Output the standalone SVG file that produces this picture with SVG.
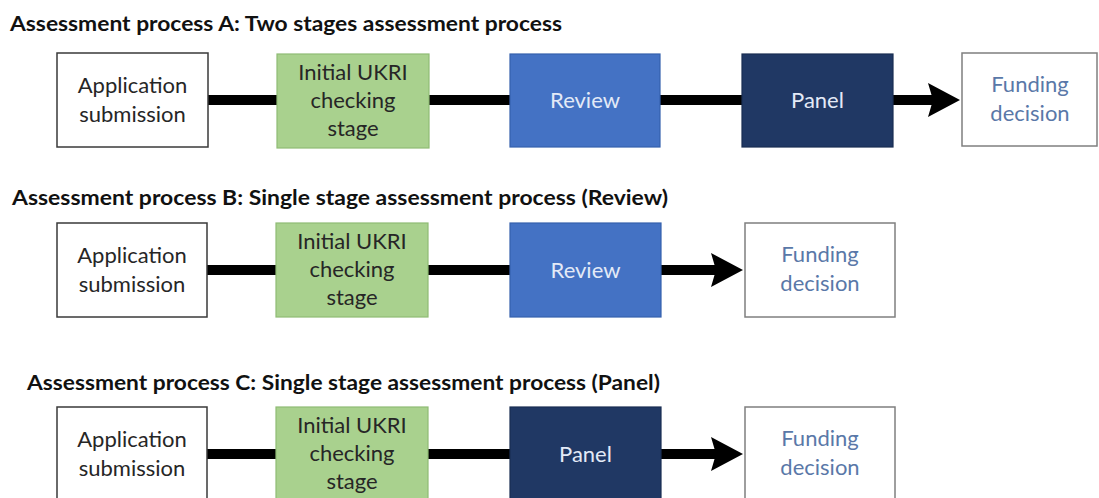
<svg xmlns="http://www.w3.org/2000/svg" width="1099" height="498" viewBox="0 0 1099 498">
  <style>
    .title { font-family: Lato, "Liberation Sans", sans-serif; font-weight: bold; font-size: 20px; fill: #111111; }
    .lbl { font-family: Lato, "Liberation Sans", sans-serif; font-size: 22px; text-anchor: middle; }
    .app rect { fill: #ffffff; stroke: #3a3a3a; stroke-width: 1.5; }
    .app text { fill: #262626; }
    .chk rect { fill: #a9d18e; stroke: #8fbb74; stroke-width: 1.2; }
    .chk text { fill: #262626; }
    .rev rect { fill: #4472c4; stroke: #3561ad; stroke-width: 1.2; }
    .rev text { fill: #e3eaf7; }
    .pan rect { fill: #203864; stroke: #1a2e52; stroke-width: 1.2; }
    .pan text { fill: #e3eaf7; }
    .fund rect { fill: #ffffff; stroke: #7f7f7f; stroke-width: 1.5; }
    .fund text { fill: #5a78a8; }
    .conn line { stroke: #000000; stroke-width: 10; }
  </style>
  <defs>
    <marker id="ah" markerUnits="userSpaceOnUse" viewBox="0 0 32 34" markerWidth="32" markerHeight="34" refX="10" refY="17" orient="auto">
      <path d="M0,0 L32,17 L0,34 L5,17 Z" fill="#000000"/>
    </marker>
  </defs>
  <rect x="0" y="0" width="1099" height="498" fill="#ffffff"/>

  <text class="title" x="10" y="31" textLength="552" lengthAdjust="spacingAndGlyphs">Assessment process A: Two stages assessment process</text>
  <text class="title" x="12" y="205" textLength="656" lengthAdjust="spacingAndGlyphs">Assessment process B: Single stage assessment process (Review)</text>
  <text class="title" x="27" y="390" textLength="633" lengthAdjust="spacingAndGlyphs">Assessment process C: Single stage assessment process (Panel)</text>

  <g id="connectors" class="conn">
    <line x1="208" y1="100" x2="277" y2="100"/>
    <line x1="429" y1="100" x2="510" y2="100"/>
    <line x1="660" y1="100" x2="742" y2="100"/>
    <line x1="893" y1="100" x2="938" y2="100" marker-end="url(#ah)"/>

    <line x1="207" y1="270" x2="276" y2="270"/>
    <line x1="428" y1="270" x2="510" y2="270"/>
    <line x1="661" y1="270" x2="721" y2="270" marker-end="url(#ah)"/>

    <line x1="207" y1="454" x2="276" y2="454"/>
    <line x1="428" y1="454" x2="510" y2="454"/>
    <line x1="661" y1="454" x2="721" y2="454" marker-end="url(#ah)"/>
  </g>

  <!-- Row A -->
  <g id="a-application" class="app">
    <rect x="57" y="53" width="151" height="94"/>
    <text class="lbl" x="132.5" y="93">Application</text>
    <text class="lbl" x="132.5" y="122">submission</text>
  </g>
  <g id="a-check" class="chk">
    <rect x="277" y="54" width="152" height="94"/>
    <text class="lbl" x="353" y="80">Initial UKRI</text>
    <text class="lbl" x="353" y="108">checking</text>
    <text class="lbl" x="353" y="136">stage</text>
  </g>
  <g id="a-review" class="rev">
    <rect x="510" y="54" width="150" height="93"/>
    <text class="lbl" x="585" y="108">Review</text>
  </g>
  <g id="a-panel" class="pan">
    <rect x="742" y="54" width="151" height="93"/>
    <text class="lbl" x="817.5" y="108">Panel</text>
  </g>
  <g id="a-funding" class="fund">
    <rect x="962" y="53" width="135" height="93"/>
    <text class="lbl" x="1030" y="92">Funding</text>
    <text class="lbl" x="1030" y="121">decision</text>
  </g>

  <!-- Row B -->
  <g id="b-application" class="app">
    <rect x="57" y="223" width="150" height="94"/>
    <text class="lbl" x="132" y="263">Application</text>
    <text class="lbl" x="132" y="292">submission</text>
  </g>
  <g id="b-check" class="chk">
    <rect x="276" y="223" width="152" height="94"/>
    <text class="lbl" x="352" y="249">Initial UKRI</text>
    <text class="lbl" x="352" y="277">checking</text>
    <text class="lbl" x="352" y="305">stage</text>
  </g>
  <g id="b-review" class="rev">
    <rect x="510" y="223" width="151" height="94"/>
    <text class="lbl" x="585.5" y="278">Review</text>
  </g>
  <g id="b-funding" class="fund">
    <rect x="745" y="223" width="150" height="94"/>
    <text class="lbl" x="820" y="262">Funding</text>
    <text class="lbl" x="820" y="291">decision</text>
  </g>

  <!-- Row C -->
  <g id="c-application" class="app">
    <rect x="57" y="407" width="150" height="94"/>
    <text class="lbl" x="132" y="447">Application</text>
    <text class="lbl" x="132" y="476">submission</text>
  </g>
  <g id="c-check" class="chk">
    <rect x="276" y="407" width="152" height="94"/>
    <text class="lbl" x="352" y="433">Initial UKRI</text>
    <text class="lbl" x="352" y="461">checking</text>
    <text class="lbl" x="352" y="489">stage</text>
  </g>
  <g id="c-panel" class="pan">
    <rect x="510" y="407" width="151" height="94"/>
    <text class="lbl" x="585.5" y="462">Panel</text>
  </g>
  <g id="c-funding" class="fund">
    <rect x="745" y="407" width="150" height="94"/>
    <text class="lbl" x="820" y="446">Funding</text>
    <text class="lbl" x="820" y="475">decision</text>
  </g>
</svg>
